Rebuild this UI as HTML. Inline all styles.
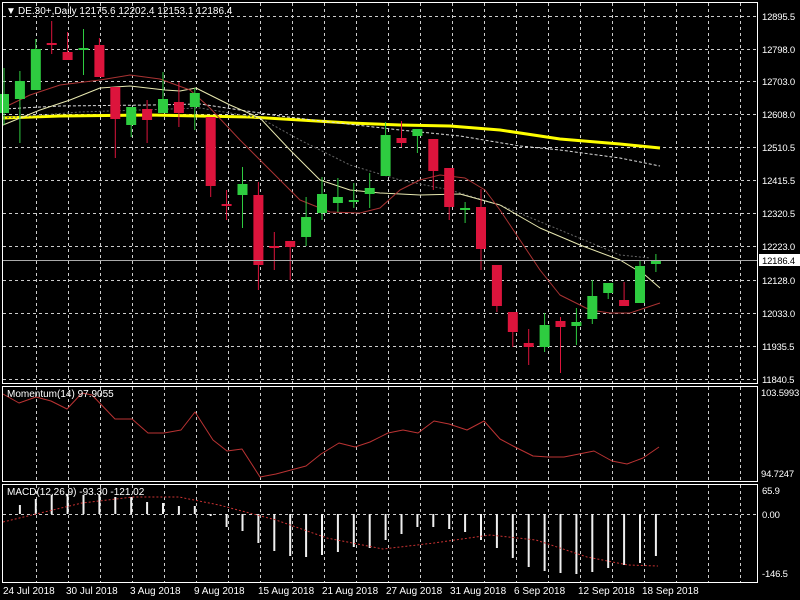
<!DOCTYPE html>
<html><head><meta charset="utf-8"><style>
html,body{margin:0;padding:0;background:#000;width:800px;height:600px;overflow:hidden}
svg{display:block}
text{font-family:"Liberation Sans",sans-serif;font-size:10px;fill:#fff}
.ax text{font-size:9.5px;letter-spacing:-0.2px}
</style></head><body>
<svg id="s" width="800" height="600" xmlns="http://www.w3.org/2000/svg">
<rect width="800" height="600" fill="#000"/>
<g id="grid"></g>
<g id="ind"></g>
<g id="candles"></g>
<rect x="2.5" y="2.5" width="755" height="381" fill="none" stroke="#fff"/>
<rect x="2.5" y="386.5" width="755" height="95" fill="none" stroke="#fff"/>
<rect x="2.5" y="484.5" width="755" height="98" fill="none" stroke="#fff"/>
<line x1="3" y1="260.5" x2="757" y2="260.5" stroke="#aaa" stroke-width="1"/>
<text x="6" y="14" font-size="9">▼</text>
<text x="18" y="14">DE.30+,Daily  12175.6 12202.4 12153.1 12186.4</text>
<g class="ax">
<text x="762" y="20">12895.5</text>
<text x="762" y="53">12798.0</text>
<text x="762" y="85">12703.0</text>
<text x="762" y="118">12608.0</text>
<text x="762" y="151">12510.5</text>
<text x="762" y="184">12415.5</text>
<text x="762" y="217">12320.5</text>
<text x="762" y="250">12223.0</text>
<text x="762" y="284">12128.0</text>
<text x="762" y="317">12033.0</text>
<text x="762" y="350">11935.5</text>
<text x="762" y="383">11840.5</text>
<rect x="759" y="254" width="41" height="12" fill="#fff"/>
<text x="762" y="264" style="fill:#000">12186.4</text>
<text x="761" y="396">103.5993</text>
<text x="761" y="477">94.7247</text>
<text x="762" y="494">65.9</text>
<text x="762" y="518">0.00</text>
<text x="762" y="577">-146.5</text>
</g>
<text x="7" y="397">Momentum(14) 97.9055</text>
<text x="7" y="495">MACD(12,26,9) -93.30 -121.02</text>
<text x="3" y="594">24 Jul 2018</text>
<text x="66" y="594">30 Jul 2018</text>
<text x="130" y="594">3 Aug 2018</text>
<text x="194" y="594">9 Aug 2018</text>
<text x="258" y="594">15 Aug 2018</text>
<text x="322" y="594">21 Aug 2018</text>
<text x="386" y="594">27 Aug 2018</text>
<text x="450" y="594">31 Aug 2018</text>
<text x="514" y="594">6 Sep 2018</text>
<text x="578" y="594">12 Sep 2018</text>
<text x="642" y="594">18 Sep 2018</text>
</svg>
<script>
const NS="http://www.w3.org/2000/svg";
function el(p,t,a){const e=document.createElementNS(NS,t);for(const k in a)e.setAttribute(k,a[k]);document.getElementById(p).appendChild(e);return e;}
for(let k=0;k<23;k++){const x=36+32*k+0.5;
 [[3,383],[387,481],[485,582]].forEach(r=>el("grid","line",{x1:x,y1:r[0],x2:x,y2:r[1],stroke:"#ccc","stroke-dasharray":"3,3","stroke-width":1}));}
[16,49,81,114,147,180,213,246,280,313,346,379].forEach(y=>el("grid","line",{x1:3,y1:y+.5,x2:757,y2:y+.5,stroke:"#ccc","stroke-dasharray":"3,3"}));
el("grid","line",{x1:3,y1:514.5,x2:757,y2:514.5,stroke:"#ccc","stroke-dasharray":"3,3"});
function pl(pts,st,w,dash){el("ind","polyline",{points:pts.map(p=>p.join(",")).join(" "),fill:"none",stroke:st,"stroke-width":w,"stroke-dasharray":dash||"none","stroke-linejoin":"round"});}
pl([[3,118],[60,116],[150,115],[250,117],[300,120],[350,123],[400,125],[450,126],[500,130],[560,139],[620,144],[660,148]],"#ffff00",3);
pl([[3,109],[60,106],[150,105],[200,104],[240,110],[280,116],[330,122],[400,130],[460,136],[520,146],[560,150],[620,158],[660,166]],"#ddd",1,"3,2");
pl([[3,118],[80,112],[200,108],[260,118],[300,140],[350,165],[400,180],[450,190],[500,205],[560,230],[620,255],[650,258]],"#666",1,"2,2");
pl([[3,125],[40,110],[70,100],[100,88],[130,86],[165,90],[180,91],[196,88],[230,105],[260,118],[290,150],[320,180],[350,190],[380,193],[420,195],[460,194],[500,205],[540,228],[580,245],[620,260],[645,275],[660,288]],"#e8e8b0",1);
pl([[3,108],[30,95],[60,85],[100,80],[130,75],[160,79],[190,90],[210,108],[240,140],[270,170],[300,200],[330,212],[360,213],[380,208],[400,190],[420,180],[440,175],[465,178],[485,190],[500,210],[520,240],[540,270],[560,295],[590,310],[610,313],[630,313],[660,303]],"#a33",1);
pl([[3,394],[19,403],[36,397],[51,401],[67,409],[82,393],[92,395],[115,419],[132,419],[148,433],[164,433],[181,430],[195,412],[213,440],[227,451],[242,449],[260,477],[276,474],[291,470],[306,466],[321,454],[339,443],[355,447],[370,442],[388,433],[403,430],[418,433],[434,421],[449,424],[467,430],[484,421],[500,439],[515,447],[533,456],[548,457],[564,457],[579,454],[594,451],[612,461],[627,464],[643,458],[659,447]],"#b33",1);
const h=[514,505,499,495,494,495,495,497,497,502,503,506,506,516,527,531,543,551,556,557,555,552,547,548,540,534,527,527,529,532,540,548,558,567,571,573,574,572,568,565,563,556];
h.forEach((y,k)=>{const x=4+15.9*k;if(k==0)return;el("ind","rect",{x:x-1,y:Math.min(y,514),width:2,height:Math.max(1,Math.abs(y-514)),fill:"#f0f0f0"});});
pl([[3,522],[36,514],[82,503],[133,497],[179,497],[219,505],[276,520],[327,538],[383,549],[434,543],[490,535],[536,540],[587,557],[628,565],[658,566]],"#c33",1,"2,2");
const C=[[94,113,68,125,1],[81,99,71,143,1],[49,90,39,90,1],[43,45,21,54,0],[52,60,32,60,0],[48,50,29,75,1],[45,77,38,77,0],[87,119,87,158,0],[107,125,107,137,1],[109,120,100,143,0],[99,113,72,113,1],[102,113,82,127,0],[93,107,88,130,1],[117,186,117,197,0],[204,206,190,220,0],[184,195,167,228,1],[195,265,182,290,0],[246,248,232,270,0],[241,247,241,280,0],[217,237,197,246,1],[194,213,177,220,1],[197,203,178,212,1],[200,202,183,208,1],[188,194,173,208,1],[135,176,122,176,1],[138,143,121,147,0],[129,136,129,153,1],[139,171,139,190,0],[168,207,168,220,0],[208,210,202,223,1],[207,249,189,270,0],[265,306,265,312,0],[312,332,312,347,0],[343,347,329,365,0],[325,347,313,352,1],[321,327,317,373,0],[322,326,308,345,1],[296,319,280,324,1],[283,293,283,299,1],[300,306,282,306,0],[266,303,260,303,1],[260,264,254,272,1]];
C.forEach((c,k)=>{const x=4+15.9*k;const col=c[4]?"#2ecc40":"#dc143c";
 el("candles","line",{x1:x,y1:c[2],x2:x,y2:c[3],stroke:col,"stroke-width":1});
 el("candles","rect",{x:x-5,y:c[0],width:10,height:Math.max(2,c[1]-c[0]),fill:col});});
</script>
</body></html>
